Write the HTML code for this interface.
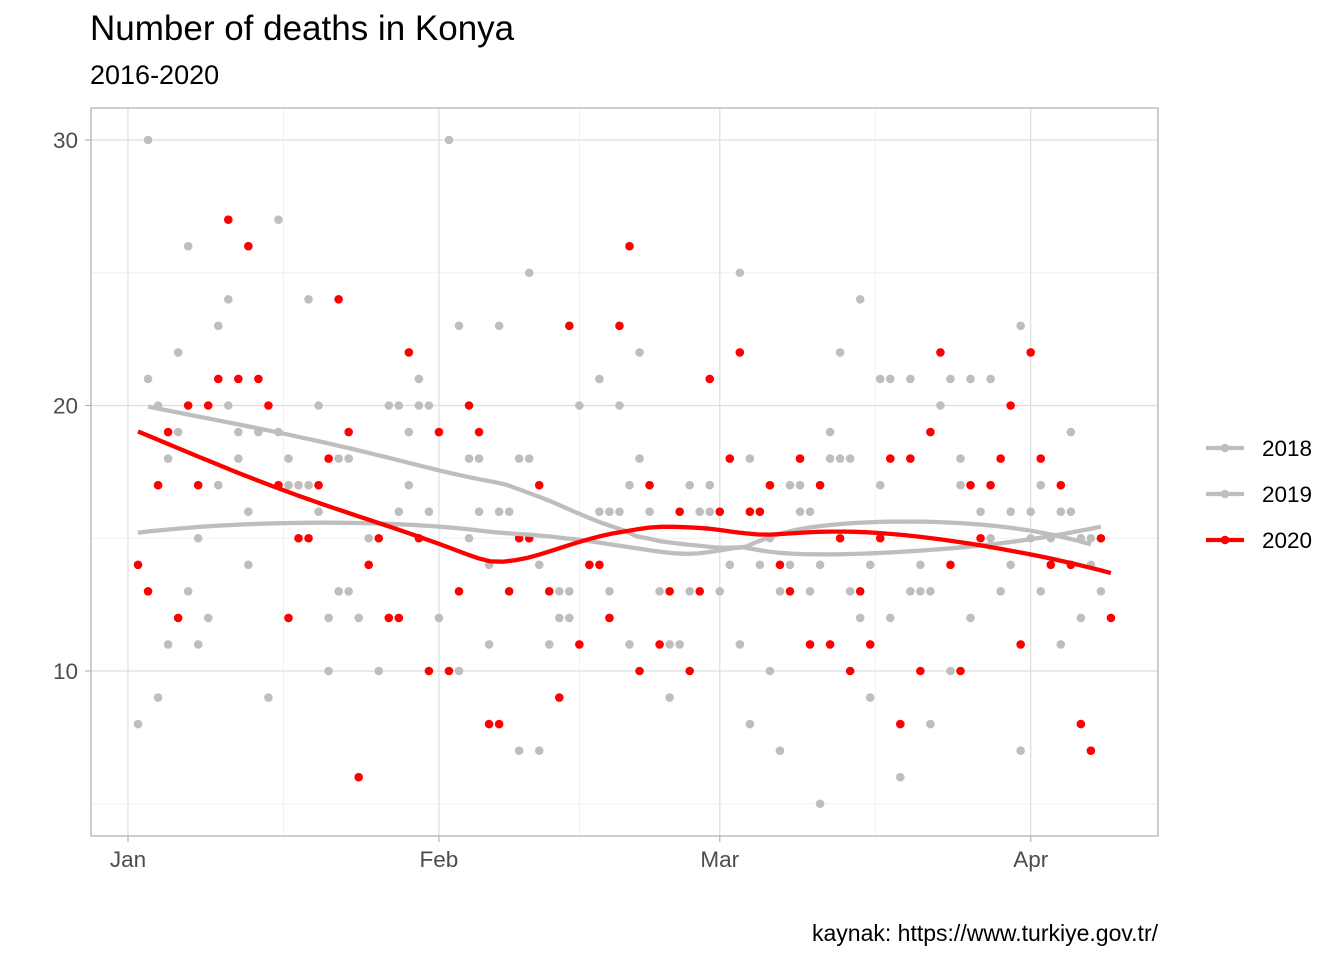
<!DOCTYPE html>
<html><head><meta charset="utf-8"><style>
body{margin:0;background:#fff;font-family:"Liberation Sans",sans-serif}
</style></head><body>
<svg id="chart" width="1344" height="960" xmlns="http://www.w3.org/2000/svg" font-family="Liberation Sans, sans-serif">
<text x="90" y="40" font-size="35" fill="#000">Number of deaths in Konya</text>
<text x="90" y="84" font-size="27" fill="#000">2016-2020</text>
<text x="1158" y="941" font-size="23" text-anchor="end" fill="#000">kaynak: https://www.turkiye.gov.tr/</text>
<g id="grid"></g>
<g id="marks"></g>
<rect x="91" y="108" width="1067" height="728" fill="none" stroke="#b3b3b3" stroke-width="1.3"/>
<g id="axes"></g>
<g id="legend"></g>
</svg>
<script>
const yTicks=[10,20,30];
const yMinor=[5,15,25];
const xTickDays=[0,31,59,90];
const xTickLabels=["Jan","Feb","Mar","Apr"];
const xMinorDays=[15.5,45,74.5];
const seriesNames=["2018","2019","2020"];
const v2020=[14,13,17,19,12,20,17,20,21,27,21,26,21,20,17,12,15,15,17,18,24,19,6,14,15,12,12,22,15,10,19,10,13,20,19,8,8,13,15,15,17,13,9,23,11,14,14,12,23,26,10,17,11,13,16,10,13,21,16,18,22,16,16,17,14,13,18,11,17,11,15,10,13,11,15,18,8,18,10,19,22,14,10,17,15,17,18,20,11,22,18,14,17,14,8,7,15,12];
const d2020=v2020.map((v,i)=>i+1);
const d2018=[2,3,4,5,6,7,8,9,10,11,12,13,15,16,17,18,19,20,21,22,24,26,27,28,29,30,32,33,34,35,36,37,39,40,41,42,43,44,46,47,48,49,50,51,53,54,56,57,58,60,61,62,64,65,66,67,68,69,70,71,72,73,74,75,76,77,78,79,80,82,83,84,85,86,88,89,90,91,93,94,95,96,97];
const v2018=[21,20,18,22,26,15,12,23,24,19,16,19,27,17,17,17,20,10,18,13,15,20,20,17,21,16,30,23,15,18,11,23,18,18,14,11,13,12,14,21,13,20,11,22,13,9,13,16,16,14,25,8,10,13,14,17,13,14,18,22,13,24,9,21,12,6,13,14,8,10,18,12,16,15,14,23,15,17,16,16,15,14,13];
const d2019=[1,2,3,4,5,6,7,9,10,11,12,14,15,16,18,19,20,21,22,23,25,27,28,29,30,31,33,34,35,36,37,38,39,40,41,43,44,45,47,48,49,50,51,52,54,55,56,58,59,61,62,63,64,65,66,67,68,69,70,71,72,73,74,75,76,78,79,80,81,82,83,84,86,87,88,89,90,91,92,93,94,95,96];
const v2019=[8,30,9,11,19,13,11,17,20,18,14,9,19,18,24,16,12,13,18,12,10,16,19,20,20,12,10,18,16,14,16,16,7,25,7,12,13,20,16,16,16,17,18,16,11,11,17,17,13,11,18,14,15,7,17,16,16,5,19,18,18,12,14,17,21,21,13,13,20,21,17,21,21,13,16,7,16,13,15,11,19,12,15];

const NS="http://www.w3.org/2000/svg";
const X=d=>128+d*10.03;
const Y=v=>405.5-(v-20)*26.55;
function mk(tag,attrs,parent){const e=document.createElementNS(NS,tag);for(const k in attrs)e.setAttribute(k,attrs[k]);parent.appendChild(e);return e;}
const grid=document.getElementById('grid'),marks=document.getElementById('marks'),axes=document.getElementById('axes'),legend=document.getElementById('legend');
yMinor.forEach(v=>{const l=mk('line',{x1:91,x2:1158,y1:Y(v),y2:Y(v),stroke:'#ececec','stroke-width':0.7},grid);

});
xMinorDays.forEach(d=>{const l=mk('line',{x1:X(d),x2:X(d),y1:108,y2:836,stroke:'#ececec','stroke-width':0.7},grid);

});
yTicks.forEach(v=>{const l=mk('line',{x1:91,x2:1158,y1:Y(v),y2:Y(v),stroke:'#dedede','stroke-width':1.2},grid);


const t=mk('line',{x1:85,x2:91,y1:Y(v),y2:Y(v),stroke:'#b3b3b3','stroke-width':1.2},axes);


const tx=mk('text',{x:78,y:Y(v)+8,'font-size':22.5,'text-anchor':'end',fill:'#4d4d4d'},axes);tx.textContent=v;

});
xTickDays.forEach((d,i)=>{const l=mk('line',{x1:X(d),x2:X(d),y1:108,y2:836,stroke:'#dedede','stroke-width':1.2},grid);


const t=mk('line',{x1:X(d),x2:X(d),y1:836,y2:842,stroke:'#b3b3b3','stroke-width':1.2},axes);


const tx=mk('text',{x:X(d),y:867,'font-size':22.5,'text-anchor':'middle',fill:'#4d4d4d'},axes);tx.textContent=xTickLabels[i];

});

function loess(xs,ys,x0){const n=xs.length,q=Math.floor(0.75*n);
const dist=xs.map(x=>Math.abs(x-x0)).slice().sort((a,b)=>a-b);const h=dist[q-1]*1.0000001;
let S=[[0,0,0],[0,0,0],[0,0,0]],B=[0,0,0];
for(let i=0;i<n;i++){const u=Math.abs(xs[i]-x0)/h;if(u>=1)continue;const w=Math.pow(1-u*u*u,3);const dx=xs[i]-x0;const b=[1,dx,dx*dx];
for(let r=0;r<3;r++){B[r]+=w*b[r]*ys[i];for(let c=0;c<3;c++)S[r][c]+=w*b[r]*b[c];}}
const M=S.map((r,i)=>r.concat([B[i]]));
for(let i=0;i<3;i++){let p=i;for(let k=i+1;k<3;k++)if(Math.abs(M[k][i])>Math.abs(M[p][i]))p=k;[M[i],M[p]]=[M[p],M[i]];
for(let k=i+1;k<3;k++){const f=M[k][i]/M[i][i];for(let c=i;c<4;c++)M[k][c]-=f*M[i][c];}}
const s=[0,0,0];for(let i=2;i>=0;i--){let v=M[i][3];for(let c=i+1;c<3;c++)v-=M[i][c]*s[c];s[i]=v/M[i][i];}return s[0];}

const series=[{n:'2018',d:d2018,v:v2018,c:'#bebebe'},{n:'2019',d:d2019,v:v2019,c:'#bebebe'},{n:'2020',d:d2020,v:v2020,c:'#ff0000'}];
series.forEach(s=>{const g=mk('g',{},marks);


s.d.forEach((d,i)=>{const c=mk('circle',{cx:X(d),cy:Y(s.v[i]),r:4.3,fill:s.c},g);

});});
series.forEach(s=>{const lo=Math.min(...s.d),hi=Math.max(...s.d);let pts=[];
for(let k=0;k<=80;k++){const x=lo+(hi-lo)*k/80;pts.push(X(x).toFixed(1)+','+Y(loess(s.d,s.v,x)).toFixed(1));}
const p=mk('polyline',{points:pts.join(' '),fill:'none',stroke:s.c,'stroke-width':4.3,'stroke-linejoin':'round'},marks);

});
series.forEach((s,i)=>{const y=448+i*46;const g=mk('g',{},legend);


mk('line',{x1:1206,x2:1244,y1:y,y2:y,stroke:s.c,'stroke-width':4.3},g);
mk('circle',{cx:1225,cy:y,r:4.3,fill:s.c},g);
const t=mk('text',{x:1262,y:y+8,'font-size':22.5,fill:'#000'},g);t.textContent=s.n;});
</script>
</body></html>
